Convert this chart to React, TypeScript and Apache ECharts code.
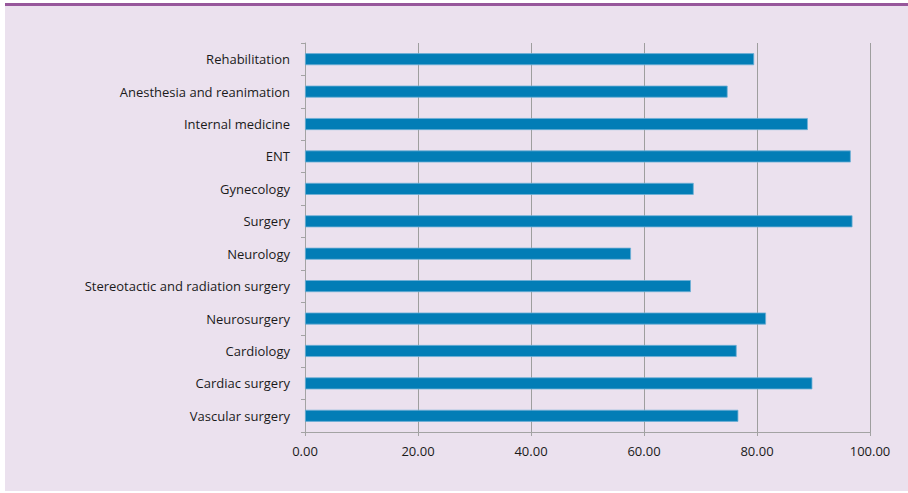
import React, { useEffect, useRef } from "react";
import * as echarts from "echarts";

const categories = [
  "Rehabilitation",
  "Anesthesia and reanimation",
  "Internal medicine",
  "ENT",
  "Gynecology",
  "Surgery",
  "Neurology",
  "Stereotactic and radiation surgery",
  "Neurosurgery",
  "Cardiology",
  "Cardiac surgery",
  "Vascular surgery",
];

const values = [79.5, 74.8, 89.0, 96.6, 68.8, 96.9, 57.7, 68.3, 81.6, 76.4, 89.8, 76.7];

const xTicks = { min: 0, max: 100, interval: 20 };

export default function App() {
  const ref = useRef<HTMLDivElement>(null);
  useEffect(() => {
    if (!ref.current) return;
    const chart = echarts.init(ref.current, undefined, { renderer: "svg" });
    const font = "'Open Sans', 'Noto Sans', sans-serif";
    chart.setOption({
      animation: false,
      backgroundColor: "#ffffff",
      graphic: [
        { type: "rect", shape: { x: 5, y: 6, width: 903, height: 485 }, style: { fill: "#EBE1EE" }, silent: true, z: -10 },
        { type: "rect", shape: { x: 5, y: 3, width: 903, height: 3 }, style: { fill: "#97579B" }, silent: true, z: -10 },
      ],
      grid: { left: 305, right: 38, top: 43, bottom: 61, containLabel: false },
      xAxis: {
        type: "value",
        min: xTicks.min,
        max: xTicks.max,
        interval: xTicks.interval,
        axisLine: { show: true, lineStyle: { color: "#A3A3A3", width: 1 } },
        axisTick: { show: true, length: 4, lineStyle: { color: "#A3A3A3" } },
        splitLine: { show: true, lineStyle: { color: "#9E9E9E", width: 1 } },
        axisLabel: {
          formatter: (v: number) => v.toFixed(2),
          color: "#1a1a1a",
          fontFamily: font,
          fontSize: 13,
          margin: 12,
        },
      },
      yAxis: {
        type: "category",
        data: categories,
        inverse: true,
        axisLine: { show: true, lineStyle: { color: "#A3A3A3", width: 1 } },
        axisTick: { show: true, length: 4, alignWithLabel: false, lineStyle: { color: "#A3A3A3" } },
        axisLabel: { color: "#1a1a1a", fontFamily: font, fontSize: 13, margin: 15 },
        splitLine: { show: false },
      },
      series: [
        {
          type: "bar",
          data: values,
          barWidth: 12,
          itemStyle: { color: "#027DB6", borderColor: "#6FB0D6", borderWidth: 0.8 },
        },
      ],
    });
    return () => chart.dispose();
  }, []);
  return (
    <div
      ref={ref}
      style={{ position: "absolute", left: 0, top: 0, width: 908, height: 493 }}
    />
  );
}
